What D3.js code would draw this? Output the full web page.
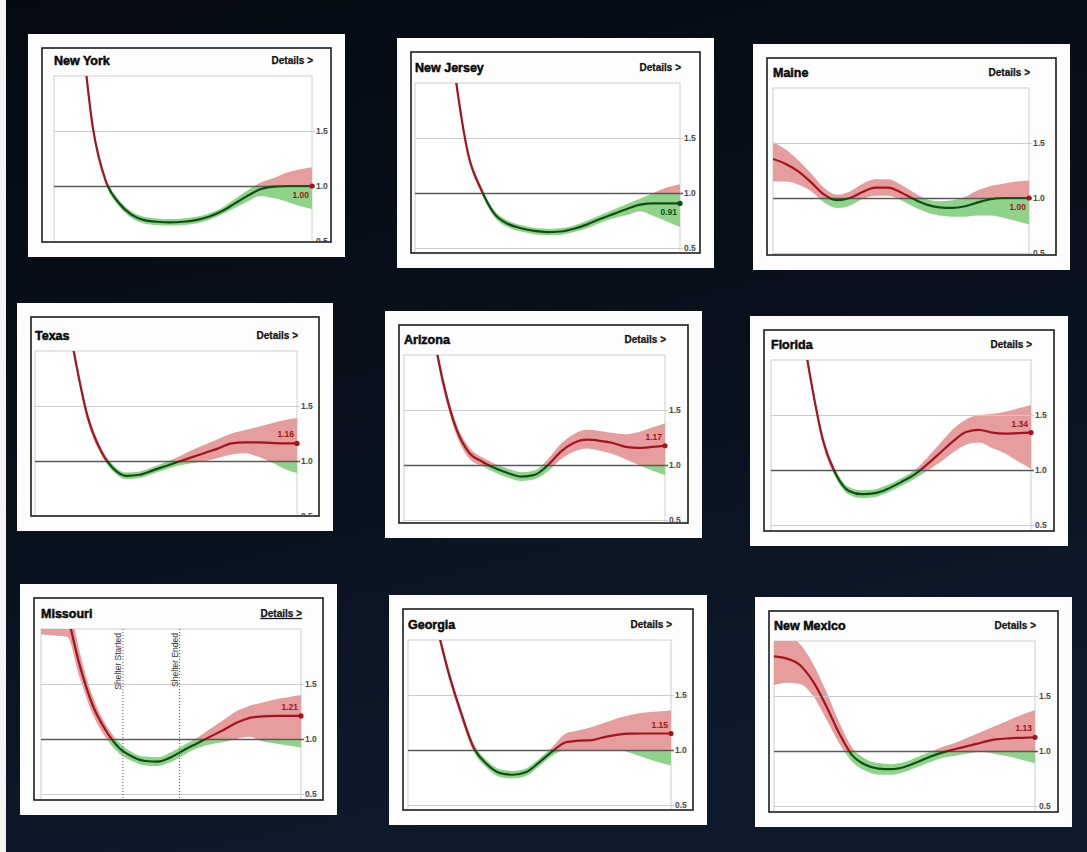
<!DOCTYPE html>
<html>
<head>
<meta charset="utf-8">
<script src="https://cdn.jsdelivr.net/npm/d3@7"></script>
<style>
  html, body { margin: 0; padding: 0; background: #070d17; }
  svg { display: block; }
  text { font-family: "Liberation Sans", Arial, Helvetica, sans-serif; }
</style>
</head>
<body>
<div id="chart"></div>
<script>
// days since the start of the series (one sample every 5 days)
const days = [0, 5, 10, 15, 20, 25, 30, 35, 40, 45, 50, 55, 60, 65, 70, 75, 80, 85, 90, 95, 100];

const states = ["New York", "New Jersey", "Maine", "Texas", "Arizona", "Florida", "Missouri", "Georgia", "New Mexico"];
const latestLabels = ["1.00", "0.91", "1.00", "1.16", "1.17", "1.34", "1.21", "1.15", "1.13"];
const yTicks = [0.5, 1.0, 1.5];

// Rt estimate (middle) and credible band (lo / hi) per state
const midNewYork = [4.4, 3.45, 2.55, 1.54, 1.05, 0.85, 0.74, 0.69, 0.675, 0.67, 0.675, 0.69, 0.72, 0.77, 0.84, 0.91, 0.97, 0.995, 1.0, 1.0, 1.0];
const hiNewYork  = [4.45, 3.5, 2.6, 1.58, 1.08, 0.88, 0.77, 0.72, 0.705, 0.70, 0.705, 0.72, 0.75, 0.80, 0.88, 0.96, 1.03, 1.07, 1.12, 1.15, 1.17];
const loNewYork  = [4.35, 3.4, 2.5, 1.50, 1.02, 0.82, 0.71, 0.66, 0.645, 0.64, 0.645, 0.66, 0.69, 0.74, 0.80, 0.86, 0.91, 0.89, 0.86, 0.82, 0.79];

const midNewJersey = [4.8, 4.0, 3.1, 2.1, 1.36, 1.03, 0.81, 0.72, 0.68, 0.655, 0.645, 0.65, 0.675, 0.715, 0.765, 0.81, 0.855, 0.895, 0.905, 0.905, 0.905];
const hiNewJersey  = [4.85, 4.05, 3.15, 2.14, 1.39, 1.06, 0.84, 0.75, 0.71, 0.685, 0.675, 0.68, 0.705, 0.75, 0.80, 0.85, 0.90, 0.95, 1.0, 1.05, 1.08];
const loNewJersey  = [4.75, 3.95, 3.05, 2.06, 1.33, 1.0, 0.78, 0.69, 0.65, 0.625, 0.615, 0.62, 0.645, 0.68, 0.73, 0.77, 0.80, 0.835, 0.79, 0.74, 0.69];

const midMaine = [1.355, 1.31, 1.24, 1.14, 1.03, 0.98, 1.0, 1.055, 1.095, 1.095, 1.05, 0.99, 0.94, 0.915, 0.91, 0.925, 0.96, 0.99, 1.0, 1.0, 1.0];
const hiMaine  = [1.51, 1.44, 1.34, 1.22, 1.09, 1.03, 1.06, 1.13, 1.17, 1.17, 1.12, 1.05, 0.99, 0.97, 0.98, 1.01, 1.07, 1.11, 1.13, 1.15, 1.16];
const loMaine  = [1.15, 1.15, 1.12, 1.06, 0.96, 0.91, 0.93, 0.99, 1.02, 1.02, 0.98, 0.92, 0.87, 0.84, 0.83, 0.83, 0.84, 0.84, 0.82, 0.79, 0.76];

const midTexas = [4.0, 3.3, 2.65, 1.97, 1.41, 1.1, 0.93, 0.865, 0.875, 0.915, 0.955, 0.995, 1.035, 1.075, 1.115, 1.16, 1.17, 1.17, 1.165, 1.16, 1.16];
const hiTexas  = [4.05, 3.35, 2.7, 2.01, 1.45, 1.13, 0.96, 0.895, 0.905, 0.945, 0.99, 1.04, 1.1, 1.15, 1.2, 1.25, 1.28, 1.31, 1.34, 1.37, 1.39];
const loTexas  = [3.95, 3.25, 2.6, 1.93, 1.37, 1.07, 0.90, 0.835, 0.845, 0.885, 0.925, 0.96, 0.98, 1.0, 1.03, 1.06, 1.07, 1.04, 0.99, 0.93, 0.89];

const midArizona = [3.5, 2.95, 2.35, 1.75, 1.33, 1.11, 1.03, 0.97, 0.925, 0.895, 0.91, 0.995, 1.12, 1.2, 1.23, 1.22, 1.2, 1.165, 1.155, 1.165, 1.175];
const hiArizona  = [3.55, 3.0, 2.4, 1.8, 1.38, 1.16, 1.07, 1.01, 0.965, 0.935, 0.95, 1.05, 1.19, 1.28, 1.32, 1.31, 1.29, 1.28, 1.3, 1.34, 1.38];
const loArizona  = [3.45, 2.9, 2.3, 1.7, 1.28, 1.06, 0.99, 0.93, 0.885, 0.855, 0.87, 0.94, 1.05, 1.12, 1.15, 1.13, 1.1, 1.05, 1.0, 0.95, 0.91];

const midFlorida = [4.0, 3.3, 2.6, 1.86, 1.27, 0.96, 0.81, 0.78, 0.79, 0.83, 0.89, 0.955, 1.05, 1.155, 1.26, 1.345, 1.365, 1.34, 1.33, 1.335, 1.34];
const hiFlorida  = [4.04, 3.34, 2.64, 1.9, 1.31, 0.995, 0.845, 0.815, 0.825, 0.865, 0.925, 0.995, 1.11, 1.24, 1.37, 1.46, 1.5, 1.51, 1.53, 1.56, 1.59];
const loFlorida  = [3.96, 3.26, 2.56, 1.82, 1.23, 0.925, 0.775, 0.745, 0.755, 0.795, 0.855, 0.915, 0.99, 1.07, 1.16, 1.23, 1.25, 1.2, 1.15, 1.08, 1.01];

const midMissouri = [2.5, 2.4, 2.13, 1.66, 1.3, 1.075, 0.92, 0.84, 0.80, 0.795, 0.835, 0.9, 0.96, 1.02, 1.08, 1.145, 1.19, 1.205, 1.21, 1.21, 1.21];
const hiMissouri  = [2.9, 2.8, 2.35, 1.78, 1.38, 1.13, 0.97, 0.88, 0.84, 0.835, 0.88, 0.945, 1.01, 1.09, 1.17, 1.25, 1.3, 1.33, 1.36, 1.38, 1.4];
const loMissouri  = [1.95, 1.94, 1.93, 1.55, 1.22, 1.01, 0.87, 0.80, 0.76, 0.755, 0.79, 0.855, 0.915, 0.95, 0.97, 1.0, 1.02, 0.98, 0.96, 0.94, 0.92];

const midGeorgia = [3.6, 3.0, 2.25, 1.74, 1.35, 1.02, 0.87, 0.79, 0.775, 0.8, 0.89, 0.99, 1.07, 1.085, 1.09, 1.12, 1.14, 1.148, 1.15, 1.15, 1.15];
const hiGeorgia  = [3.64, 3.04, 2.29, 1.78, 1.39, 1.055, 0.905, 0.825, 0.81, 0.835, 0.925, 1.03, 1.15, 1.18, 1.21, 1.25, 1.29, 1.32, 1.34, 1.35, 1.36];
const loGeorgia  = [3.56, 2.96, 2.21, 1.7, 1.31, 0.985, 0.835, 0.755, 0.74, 0.765, 0.855, 0.95, 1.0, 1.0, 1.0, 1.0, 1.0, 0.97, 0.93, 0.89, 0.86];

const midNewMexico = [1.86, 1.84, 1.78, 1.63, 1.41, 1.16, 0.96, 0.875, 0.84, 0.835, 0.855, 0.9, 0.95, 0.99, 1.02, 1.05, 1.08, 1.105, 1.115, 1.12, 1.125];
const hiNewMexico  = [2.1, 2.06, 1.97, 1.79, 1.54, 1.26, 1.03, 0.93, 0.89, 0.88, 0.9, 0.945, 0.995, 1.04, 1.08, 1.13, 1.18, 1.23, 1.28, 1.33, 1.37];
const loNewMexico  = [1.6, 1.62, 1.61, 1.5, 1.29, 1.07, 0.9, 0.82, 0.785, 0.785, 0.81, 0.855, 0.9, 0.94, 0.96, 0.98, 0.99, 0.97, 0.95, 0.92, 0.89];

// Missouri annotations
const shelterDays = [31.5, 53.3];
const shelterLabels = ["Shelter Started", "Shelter Ended"];

const mids = [midNewYork, midNewJersey, midMaine, midTexas, midArizona, midFlorida, midMissouri, midGeorgia, midNewMexico];
const his = [hiNewYork, hiNewJersey, hiMaine, hiTexas, hiArizona, hiFlorida, hiMissouri, hiGeorgia, hiNewMexico];
const los = [loNewYork, loNewJersey, loMaine, loTexas, loArizona, loFlorida, loMissouri, loGeorgia, loNewMexico];

// where each photographed card sits: frame box, plot left/right, y of Rt = 1.0
const layout = [
  { fx: 42,  fy: 48,  fw: 289, fh: 194, px0: 54,  px1: 312,  y1: 186 },
  { fx: 411, fy: 52,  fw: 289, fh: 201, px0: 415, px1: 680,  y1: 193 },
  { fx: 767, fy: 58,  fw: 289, fh: 197, px0: 773, px1: 1029, y1: 198 },
  { fx: 31,  fy: 317, fw: 288, fh: 199, px0: 35,  px1: 297,  y1: 461 },
  { fx: 399, fy: 325, fw: 289, fh: 198, px0: 404, px1: 665,  y1: 465 },
  { fx: 764, fy: 330, fw: 290, fh: 201, px0: 771, px1: 1031, y1: 470 },
  { fx: 34,  fy: 598, fw: 289, fh: 202, px0: 41,  px1: 301,  y1: 739 },
  { fx: 403, fy: 609, fw: 290, fh: 201, px0: 408, px1: 671,  y1: 750 },
  { fx: 769, fy: 611, fw: 289, fh: 201, px0: 774, px1: 1035, y1: 751 }
];

const redLine = "#a3141c", greenLine = "#0d4f12";
const redBand = "#e59d9d", greenBand = "#8fd38b";

const W = 1087, H = 852;
const svg = d3.select("#chart").append("svg").attr("width", W).attr("height", H);
const defs = svg.append("defs");

let bg = defs.append("linearGradient").attr("id", "bg").attr("x1", 0).attr("y1", 0).attr("x2", 0.3).attr("y2", 1);
bg.append("stop").attr("offset", "0%").attr("stop-color", "#050a12");
bg.append("stop").attr("offset", "55%").attr("stop-color", "#08111d");
bg.append("stop").attr("offset", "100%").attr("stop-color", "#0e1a2b");
svg.append("rect").attr("width", W).attr("height", H).attr("fill", "url(#bg)");
svg.append("rect").attr("width", 6).attr("height", H).attr("fill", "#f4f4f4");

states.forEach(function(name, i) {
  let L = layout[i];
  let top = L.y1 - 110, bottom = L.fy + L.fh;
  let x = d3.scaleLinear().domain([0, 100]).range([L.px0, L.px1]);
  let y = d3.scaleLinear().domain([1, 2]).range([L.y1, L.y1 - 110]);
  let g = svg.append("g");

  // white card + clip paths
  g.append("rect")
    .attr("x", L.fx - 14).attr("y", L.fy - 14)
    .attr("width", L.fw + 28).attr("height", L.fh + 29)
    .attr("fill", "#fdfdfd");

  defs.append("clipPath").attr("id", "frame" + i).append("rect")
    .attr("x", L.fx).attr("y", L.fy).attr("width", L.fw).attr("height", L.fh - 1);
  defs.append("clipPath").attr("id", "above" + i).append("rect")
    .attr("x", L.px0).attr("y", top).attr("width", L.px1 - L.px0).attr("height", L.y1 - top);
  defs.append("clipPath").attr("id", "below" + i).append("rect")
    .attr("x", L.px0).attr("y", L.y1).attr("width", L.px1 - L.px0).attr("height", bottom - L.y1);

  let inner = g.append("g").attr("clip-path", "url(#frame" + i + ")");

  // plot box
  inner.append("rect")
    .attr("x", L.px0).attr("y", top)
    .attr("width", L.px1 - L.px0).attr("height", bottom - top + 5)
    .attr("fill", "#ffffff").attr("stroke", "#cfcfcf").attr("stroke-width", 1);

  let rows = days.map(function(d, k) {
    return { day: d, mid: mids[i][k], lo: los[i][k], hi: his[i][k] };
  });

  let area = d3.area().curve(d3.curveMonotoneX)
    .x(function(d) { return x(d.day); })
    .y0(function(d) { return y(d.lo); })
    .y1(function(d) { return y(d.hi); });
  let line = d3.line().curve(d3.curveMonotoneX)
    .x(function(d) { return x(d.day); })
    .y(function(d) { return y(d.mid); });

  inner.append("path").datum(rows).attr("d", area).attr("fill", redBand)
    .attr("clip-path", "url(#above" + i + ")");
  inner.append("path").datum(rows).attr("d", area).attr("fill", greenBand)
    .attr("clip-path", "url(#below" + i + ")");

  // grid lines + tick labels on the right
  let axis = inner.append("g")
    .attr("transform", "translate(" + (L.px1 + 3) + ",0)")
    .call(d3.axisRight(y).tickValues(yTicks).tickSize(-(L.px1 - L.px0 + 3)).tickPadding(1).tickFormat(d3.format(".1f")));
  axis.select(".domain").remove();
  axis.selectAll(".tick line")
    .attr("stroke", function(d) { return d === 1 ? "#5a5a5a" : "#cccccc"; })
    .attr("stroke-width", function(d) { return d === 1 ? 1.6 : 1; });
  axis.selectAll(".tick text")
    .attr("fill", "#4a4a4a").attr("font-size", 8.5).attr("font-weight", "bold")
    .attr("font-family", "Liberation Sans, Arial, sans-serif");

  // Missouri shelter-in-place markers
  if (name === "Missouri") {
    shelterDays.forEach(function(d, k) {
      inner.append("line")
        .attr("x1", x(d)).attr("x2", x(d)).attr("y1", top).attr("y2", bottom)
        .attr("stroke", "#555").attr("stroke-width", 1).attr("stroke-dasharray", "1,2");
      inner.append("text")
        .attr("transform", "translate(" + (x(d) - 2) + "," + (top + 4) + ") rotate(-90)")
        .attr("text-anchor", "end").attr("font-size", 8.5).attr("fill", "#333")
        .text(shelterLabels[k]);
    });
  }

  // the Rt line, red above 1 and green below
  let lines = inner.append("g");
  lines.append("path").datum(rows).attr("d", line).attr("fill", "none")
    .attr("stroke", redLine).attr("stroke-width", 2.2)
    .attr("clip-path", "url(#above" + i + ")");
  lines.append("path").datum(rows).attr("d", line).attr("fill", "none")
    .attr("stroke", greenLine).attr("stroke-width", 2.2)
    .attr("clip-path", "url(#below" + i + ")");

  let last = rows[rows.length - 1];
  let lastVal = +latestLabels[i];
  let endColor = lastVal >= 1 ? redLine : greenLine;
  inner.append("circle")
    .attr("cx", x(last.day)).attr("cy", y(last.mid)).attr("r", 2.6)
    .attr("fill", endColor);
  let labelAbove = lastVal > 1.05;
  inner.append("text")
    .attr("x", x(last.day) - 3)
    .attr("y", y(last.mid) + (labelAbove ? -6 : 12))
    .attr("text-anchor", "end").attr("font-size", 8.5).attr("font-weight", "bold")
    .attr("fill", endColor)
    .text(latestLabels[i]);

  // title and details link
  g.append("text")
    .attr("x", L.px0).attr("y", top - 11)
    .attr("font-size", 12.5).attr("font-weight", "bold")
    .attr("fill", "#0a0a0a").attr("stroke", "#0a0a0a").attr("stroke-width", 0.5)
    .text(name);
  g.append("text")
    .attr("x", L.px1 + 1).attr("y", top - 12)
    .attr("text-anchor", "end").attr("font-size", 10).attr("font-weight", "bold")
    .attr("fill", "#111").attr("stroke", "#111").attr("stroke-width", 0.25)
    .attr("text-decoration", name === "Missouri" ? "underline" : null)
    .text("Details >");

  // dark frame
  g.append("rect")
    .attr("x", L.fx).attr("y", L.fy).attr("width", L.fw).attr("height", L.fh)
    .attr("fill", "none").attr("stroke", "#1c1c1c").attr("stroke-width", 1.6);
});
</script>
</body>
</html>
